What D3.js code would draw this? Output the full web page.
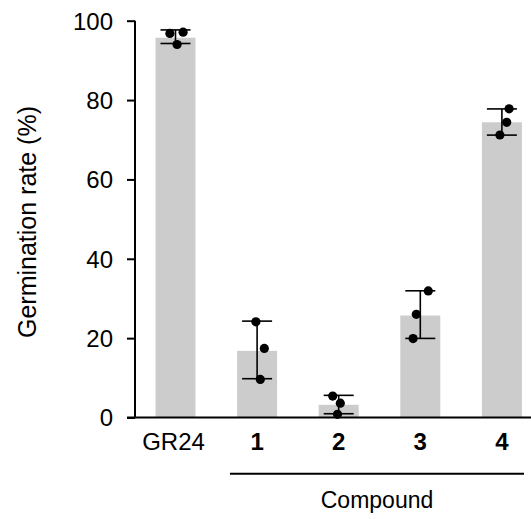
<!DOCTYPE html>
<html lang="en">
<head>
<meta charset="utf-8">
<title>Germination rate</title>
<script src="https://d3js.org/d3.v7.min.js"></script>
<style>
  body { margin: 0; background: #fff; }
  text { font-family: "Liberation Sans", Arial, Helvetica, sans-serif; fill: #000; }
</style>
</head>
<body>
<script>
// data
const categories = ["GR24", "1", "2", "3", "4"];
const means = [95.7, 16.8, 3.2, 25.7, 74.4];
const replicates = [
  [96.8, 97.1, 94.0],
  [24.1, 17.4, 9.6],
  [5.4, 3.6, 0.8],
  [31.9, 26.0, 19.9],
  [77.8, 74.4, 71.2]
];
// horizontal jitter of the dots, as a share of the bar width
const jitter = [
  [-0.14, 0.19, 0.04],
  [-0.03, 0.18, 0.08],
  [-0.15, 0.04, -0.03],
  [0.2, -0.1, -0.18],
  [0.18, 0.12, -0.05]
];
const yTicks = [0, 20, 40, 60, 80, 100];

const width = 531, height = 519;
const margin = {top: 20.7, left: 135, bottom: 101.5};

const svg = d3.select("body").append("svg")
  .attr("width", width)
  .attr("height", height);

const x = d3.scaleBand()
  .domain(categories)
  .range([margin.left - 0.3, margin.left - 0.3 + 408])
  .paddingInner(0.51)
  .paddingOuter(0.255);

const y = d3.scaleLinear()
  .domain([0, 100])
  .range([height - margin.bottom, margin.top]);

function sd(arr) {
  const m = d3.mean(arr);
  return Math.sqrt(d3.sum(arr, v => (v - m) * (v - m)) / (arr.length - 1));
}

// bars
svg.append("g").selectAll("rect")
  .data(categories)
  .join("rect")
  .attr("x", d => x(d))
  .attr("width", x.bandwidth())
  .attr("y", (d, i) => y(means[i]))
  .attr("height", (d, i) => y(0) - y(means[i]))
  .attr("fill", "#cccccc");

// error bars (mean +/- SD of replicates)
const capW = 30;
const eb = svg.append("g").attr("stroke", "#000").attr("stroke-width", 1.6);
categories.forEach((c, i) => {
  const m = d3.mean(replicates[i]);
  const s = sd(replicates[i]);
  const cx = x(c) + x.bandwidth() / 2;
  const lo = Math.max(0, m - s), hi = m + s;
  eb.append("line").attr("x1", cx).attr("x2", cx).attr("y1", y(lo)).attr("y2", y(hi));
  eb.append("line").attr("x1", cx - capW / 2).attr("x2", cx + capW / 2).attr("y1", y(hi)).attr("y2", y(hi));
  eb.append("line").attr("x1", cx - capW / 2).attr("x2", cx + capW / 2).attr("y1", y(lo)).attr("y2", y(lo));
});

// replicate dots
const pts = [];
categories.forEach((c, i) => replicates[i].forEach((v, j) => pts.push({c: c, v: v, j: jitter[i][j]})));
svg.append("g").selectAll("circle")
  .data(pts)
  .join("circle")
  .attr("cx", d => x(d.c) + x.bandwidth() / 2 + d.j * x.bandwidth())
  .attr("cy", d => y(d.v))
  .attr("r", 4.6)
  .attr("fill", "#000");

// y axis
const yAxis = d3.axisLeft(y).tickValues(yTicks).tickSize(8).tickPadding(14);
const gy = svg.append("g")
  .attr("transform", "translate(" + margin.left + ",0)")
  .call(yAxis);
gy.select(".domain").attr("stroke-width", 2).attr("d", "M0," + y(100) + "V" + y(0));
gy.selectAll(".tick line").attr("stroke-width", 2);
gy.selectAll(".tick text").style("font-size", "24px").attr("dy", "0.35em");

// x axis baseline
svg.append("line")
  .attr("x1", margin.left - 8).attr("x2", width)
  .attr("y1", y(0)).attr("y2", y(0))
  .attr("stroke", "#000").attr("stroke-width", 2.2);

// category labels
svg.append("g").selectAll("text")
  .data(categories)
  .join("text")
  .attr("x", d => x(d) + x.bandwidth() / 2 - (d === "GR24" ? 2 : 0))
  .attr("y", y(0) + 32)
  .attr("text-anchor", "middle")
  .style("font-size", "24px")
  .style("font-weight", d => d === "GR24" ? "normal" : "bold")
  .text(d => d);

// compound bracket
svg.append("line")
  .attr("x1", 230).attr("x2", 524)
  .attr("y1", 473.7).attr("y2", 473.7)
  .attr("stroke", "#000").attr("stroke-width", 2);

svg.append("text")
  .attr("x", 377)
  .attr("y", 508)
  .attr("text-anchor", "middle")
  .style("font-size", "23px")
  .text("Compound");

// y label
svg.append("text")
  .attr("transform", "translate(36,222) rotate(-90)")
  .attr("text-anchor", "middle")
  .style("font-size", "25px")
  .text("Germination rate (%)");
</script>
</body>
</html>
